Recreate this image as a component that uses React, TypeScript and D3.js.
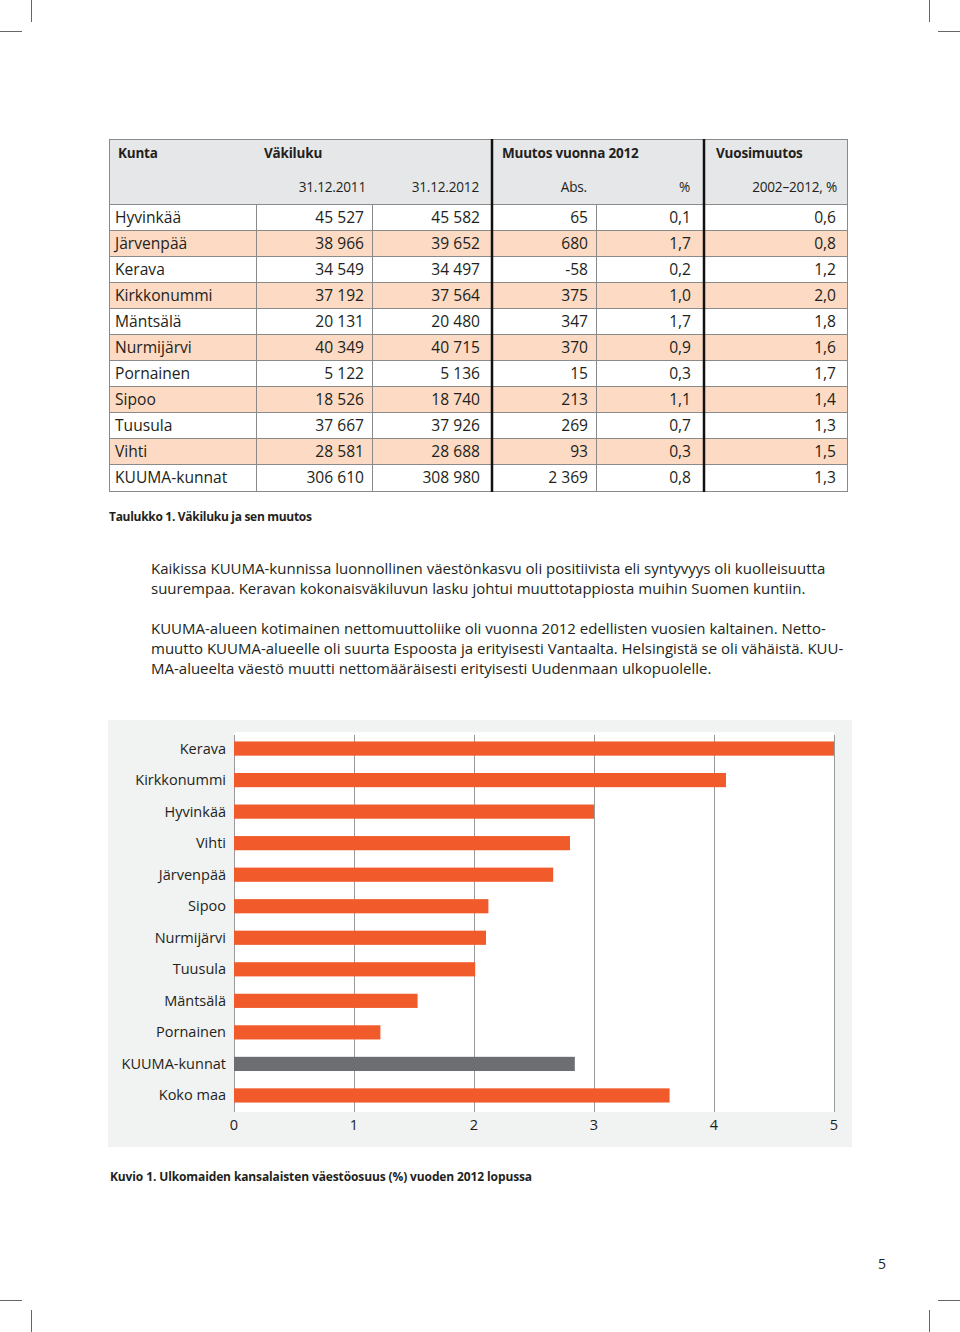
import React from "react";
import * as d3 from "d3";

// ---------- Table data ----------
const municipalities = ["Hyvinkää", "Järvenpää", "Kerava", "Kirkkonummi", "Mäntsälä", "Nurmijärvi", "Pornainen", "Sipoo", "Tuusula", "Vihti", "KUUMA-kunnat"];
const pop2011 = ["45 527", "38 966", "34 549", "37 192", "20 131", "40 349", "5 122", "18 526", "37 667", "28 581", "306 610"];
const pop2012 = ["45 582", "39 652", "34 497", "37 564", "20 480", "40 715", "5 136", "18 740", "37 926", "28 688", "308 980"];
const changeAbs = ["65", "680", "-58", "375", "347", "370", "15", "213", "269", "93", "2 369"];
const changePct = ["0,1", "1,7", "0,2", "1,0", "1,7", "0,9", "0,3", "1,1", "0,7", "0,3", "0,8"];
const annualChange = ["0,6", "0,8", "1,2", "2,0", "1,8", "1,6", "1,7", "1,4", "1,3", "1,5", "1,3"];
const headerTop = ["Kunta", "Väkiluku", "Muutos vuonna 2012", "Vuosimuutos"];
const headerSub = ["31.12.2011", "31.12.2012", "Abs.", "%", "2002–2012, %"];

// ---------- Chart data ----------
const barCategories = ["Kerava", "Kirkkonummi", "Hyvinkää", "Vihti", "Järvenpää", "Sipoo", "Nurmijärvi", "Tuusula", "Mäntsälä", "Pornainen", "KUUMA-kunnat", "Koko maa"];
const barValues = [5.0, 4.1, 3.0, 2.8, 2.66, 2.12, 2.1, 2.01, 1.53, 1.22, 2.84, 3.63];
const xTicks = [0, 1, 2, 3, 4, 5];

const paragraph1 = [
  "Kaikissa KUUMA-kunnissa luonnollinen väestönkasvu oli positiivista eli syntyvyys oli kuolleisuutta",
  "suurempaa. Keravan kokonaisväkiluvun lasku johtui muuttotappiosta muihin Suomen kuntiin.",
];
const paragraph2 = [
  "KUUMA-alueen kotimainen nettomuuttoliike oli vuonna 2012 edellisten vuosien kaltainen. Netto-",
  "muutto KUUMA-alueelle oli suurta Espoosta ja erityisesti Vantaalta. Helsingistä se oli vähäistä. KUU-",
  "MA-alueelta väestö muutti nettomääräisesti erityisesti Uudenmaan ulkopuolelle.",
];

const FONT = "'Open Sans', 'Noto Sans', sans-serif";
const TXT = "#231f20";
const ORANGE = "#f15a2b";
const GREY_BAR = "#6d6e71";
const PEACH = "#fcdac3";

export default function App() {
  // table layout
  const tX0 = 109, tX1 = 848;
  const colEdges = [109, 256, 372, 492, 596, 704, 848];
  const headTop = 139, headBottom = 204;
  const rowH = 26;
  const rowsY = municipalities.map((_, i) => headBottom + i * rowH);
  const tBottom = headBottom + municipalities.length * rowH + 1;
  const colsData = [pop2011, pop2012, changeAbs, changePct, annualChange];

  // chart layout
  const panel = { x: 108, y: 720, w: 744, h: 427 };
  const x = d3.scaleLinear().domain([0, 5]).range([234, 834]);
  const y = d3.scaleBand().domain(barCategories).range([732, 1112]).paddingInner(0.55).paddingOuter(0.3);

  return (
    <div style={{ position: "absolute", left: 0, top: 0 }}>
      <svg width={960} height={1332} style={{ display: "block", background: "#fff" }} fontFamily={FONT}>
        {/* crop marks */}
        <g stroke="#666" strokeWidth={1}>
          <line x1={31.5} y1={0} x2={31.5} y2={22} />
          <line x1={0} y1={31.5} x2={22} y2={31.5} />
          <line x1={929.5} y1={0} x2={929.5} y2={22} />
          <line x1={938} y1={31.5} x2={960} y2={31.5} />
          <line x1={31.5} y1={1310} x2={31.5} y2={1332} />
          <line x1={0} y1={1300.5} x2={22} y2={1300.5} />
          <line x1={929.5} y1={1310} x2={929.5} y2={1332} />
          <line x1={938} y1={1300.5} x2={960} y2={1300.5} />
        </g>

        {/* ---------- TABLE ---------- */}
        <rect x={tX0} y={headTop} width={tX1 - tX0} height={headBottom - headTop} fill="#e6e7e8" />
        {municipalities.map((m, i) => (
          <rect key={"bg" + m} x={tX0} y={rowsY[i]} width={tX1 - tX0} height={rowH} fill={i % 2 === 1 ? PEACH : "#fff"} />
        ))}
        <g stroke="#8a8a8a" strokeWidth={1}>
          <line x1={tX0} x2={tX1} y1={headTop + 0.5} y2={headTop + 0.5} />
          {municipalities.map((m, i) => (
            <line key={"hl" + m} x1={tX0} x2={tX1} y1={rowsY[i] + 0.5} y2={rowsY[i] + 0.5} />
          ))}
          <line x1={tX0} x2={tX1} y1={tBottom + 0.5} y2={tBottom + 0.5} />
          <line x1={tX0 + 0.5} x2={tX0 + 0.5} y1={headTop} y2={tBottom} />
          <line x1={tX1 - 0.5} x2={tX1 - 0.5} y1={headTop} y2={tBottom} />
          {[1, 2, 4].map((c) => (
            <line key={"vl" + c} x1={colEdges[c] + 0.5} x2={colEdges[c] + 0.5} y1={headBottom} y2={tBottom} />
          ))}
        </g>
        <g stroke="#111" strokeWidth={2.5}>
          <line x1={colEdges[3]} x2={colEdges[3]} y1={headTop} y2={tBottom + 1} />
          <line x1={colEdges[5]} x2={colEdges[5]} y1={headTop} y2={tBottom + 1} />
        </g>
        <g fontSize={13.5} fontWeight={700} fill={TXT} letterSpacing={-0.2}>
          <text x={118} y={158}>{headerTop[0]}</text>
          <text x={264} y={158}>{headerTop[1]}</text>
          <text x={502} y={158}>{headerTop[2]}</text>
          <text x={716} y={158}>{headerTop[3]}</text>
        </g>
        <g fontSize={13.6} fill={TXT} textAnchor="end" letterSpacing={-0.2}>
          {headerSub.map((h, i) => (
            <text key={h} x={[366, 479, 587, 690, 837][i]} y={192}>{h}</text>
          ))}
        </g>
        <g fontSize={15.6} fill={TXT}>
          {municipalities.map((m, i) => (
            <g key={"row" + m}>
              <text x={115} y={rowsY[i] + 19}>{m}</text>
              {colsData.map((col, c) => (
                <text key={c} x={[364, 480, 588, 691, 836][c]} y={rowsY[i] + 19} textAnchor="end">{col[i]}</text>
              ))}
            </g>
          ))}
        </g>
        <text x={109} y={521} fontSize={12} fontWeight={700} fill={TXT} letterSpacing={-0.3}>Taulukko 1. Väkiluku ja sen muutos</text>

        {/* ---------- PARAGRAPHS ---------- */}
        <g fontSize={15} fill={TXT}>
          {paragraph1.map((l, i) => (
            <text key={"p1" + i} x={151} y={574 + i * 20}>{l}</text>
          ))}
          {paragraph2.map((l, i) => (
            <text key={"p2" + i} x={151} y={634 + i * 20}>{l}</text>
          ))}
        </g>

        {/* ---------- BAR CHART ---------- */}
        <rect x={panel.x} y={panel.y} width={panel.w} height={panel.h} fill="#f1f2f2" />
        <rect x={x(0)} y={732} width={x(5) - x(0)} height={380} fill="#fff" />
        <g stroke="#9a9a9a" strokeWidth={1}>
          {xTicks.map((t) => (
            <line key={"g" + t} x1={Math.round(x(t)) + 0.5} x2={Math.round(x(t)) + 0.5} y1={735} y2={1112} />
          ))}
        </g>
        {barCategories.map((c, i) => (
          <rect key={"bar" + c} x={x(0)} y={y(c)!} width={x(barValues[i]) - x(0)} height={y.bandwidth()} fill={c === "KUUMA-kunnat" ? GREY_BAR : ORANGE} />
        ))}
        <g fontSize={14.5} fill={TXT} textAnchor="end">
          {barCategories.map((c) => (
            <text key={"lab" + c} x={226} y={y(c)! + y.bandwidth() / 2 + 5}>{c}</text>
          ))}
        </g>
        <g fontSize={14.5} fill={TXT} textAnchor="middle">
          {xTicks.map((t) => (
            <text key={"t" + t} x={x(t)} y={1130}>{t}</text>
          ))}
        </g>
        <text x={110} y={1181} fontSize={12} fontWeight={700} fill={TXT} letterSpacing={-0.12}>Kuvio 1. Ulkomaiden kansalaisten väestöosuus (%) vuoden 2012 lopussa</text>

        <text x={882} y={1269} fontSize={14} fill={TXT} textAnchor="middle">5</text>
      </svg>
    </div>
  );
}
